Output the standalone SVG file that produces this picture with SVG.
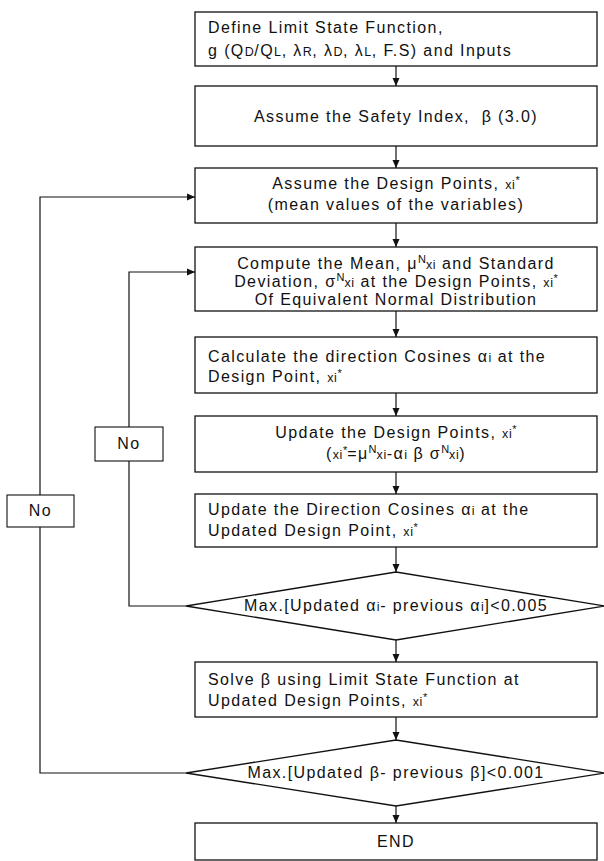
<svg xmlns="http://www.w3.org/2000/svg" width="604" height="861" viewBox="0 0 604 861">
  <defs>
    <marker id="arrow" viewBox="0 0 8 8" refX="8" refY="4" markerWidth="8" markerHeight="8" markerUnits="userSpaceOnUse" orient="auto">
      <path d="M0,0.5 L8,4 L0,7.5 Z" fill="#111"/>
    </marker>
    <style>
      .box { fill: #fff; stroke: #111; stroke-width: 1.3; }
      .lbl { fill: #fff; stroke: #111; stroke-width: 1.1; }
      .wire { fill: none; stroke: #111; stroke-width: 1.2; }
      .t { font-family: "Liberation Sans", Arial, sans-serif; font-size: 16px; letter-spacing: 1.4px; fill: #111; }
      .c { text-anchor: middle; }
      .sm { font-size: 12.5px; letter-spacing: 0.6px; }
      .sup { font-size: 11px; letter-spacing: 0; }
    </style>
  </defs>
  <rect width="604" height="861" fill="#fff"/>

  <!-- connectors -->
  <g id="connectors">
    <line class="wire" x1="396" y1="66" x2="396" y2="86" marker-end="url(#arrow)"/>
    <line class="wire" x1="396" y1="146" x2="396" y2="168" marker-end="url(#arrow)"/>
    <line class="wire" x1="396" y1="223" x2="396" y2="247" marker-end="url(#arrow)"/>
    <line class="wire" x1="396" y1="311" x2="396" y2="337" marker-end="url(#arrow)"/>
    <line class="wire" x1="396" y1="393" x2="396" y2="416" marker-end="url(#arrow)"/>
    <line class="wire" x1="396" y1="472" x2="396" y2="494" marker-end="url(#arrow)"/>
    <line class="wire" x1="396" y1="547" x2="396" y2="572" marker-end="url(#arrow)"/>
    <line class="wire" x1="396" y1="640" x2="396" y2="662" marker-end="url(#arrow)"/>
    <line class="wire" x1="396" y1="717" x2="396" y2="740" marker-end="url(#arrow)"/>
    <line class="wire" x1="396" y1="806" x2="396" y2="823" marker-end="url(#arrow)"/>
    <!-- inner loop: direction cosines not converged -->
    <polyline class="wire" points="186,606 129,606 129,461"/>
    <polyline class="wire" points="129,427 129,272 195,272" marker-end="url(#arrow)"/>
    <!-- outer loop: safety index not converged -->
    <polyline class="wire" points="186,773 40,773 40,527"/>
    <polyline class="wire" points="40,495 40,197 195,197" marker-end="url(#arrow)"/>
  </g>

  <g id="n1">
    <rect class="box" x="195" y="12" width="402" height="54"/>
    <text class="t" x="208" y="33">Define Limit State Function,</text>
    <text class="t" x="208" y="56">g (Q<tspan class="sm">D</tspan>/Q<tspan class="sm">L</tspan>, λ<tspan class="sm">R</tspan>, λ<tspan class="sm">D</tspan>, λ<tspan class="sm">L</tspan>, F.S) and Inputs</text>
  </g>

  <g id="n2">
    <rect class="box" x="195" y="86" width="402" height="60"/>
    <text class="t c" x="396" y="122">Assume the Safety Index,&#160; β (3.0)</text>
  </g>

  <g id="n3">
    <rect class="box" x="195" y="168" width="402" height="55"/>
    <text class="t c" x="396" y="189">Assume the Design Points, <tspan class="sm">xi</tspan><tspan class="sup" dy="-5">*</tspan></text>
    <text class="t c" x="396" y="210">(mean values of the variables)</text>
  </g>

  <g id="n4">
    <rect class="box" x="195" y="247" width="402" height="64"/>
    <text class="t c" x="396" y="269">Compute the Mean, μ<tspan class="sup" dy="-6">N</tspan><tspan class="sm" dy="6">xi</tspan> and Standard</text>
    <text class="t c" x="396" y="287">Deviation, σ<tspan class="sup" dy="-6">N</tspan><tspan class="sm" dy="6">xi</tspan> at the Design Points, <tspan class="sm">xi</tspan><tspan class="sup" dy="-5">*</tspan></text>
    <text class="t c" x="396" y="305">Of Equivalent Normal Distribution</text>
  </g>

  <g id="n5">
    <rect class="box" x="195" y="337" width="402" height="56"/>
    <text class="t" x="208" y="362">Calculate the direction Cosines α<tspan class="sm">i</tspan> at the</text>
    <text class="t" x="208" y="382">Design Point, <tspan class="sm">xi</tspan><tspan class="sup" dy="-5">*</tspan></text>
  </g>

  <g id="n6">
    <rect class="box" x="195" y="416" width="402" height="56"/>
    <text class="t c" x="396" y="438">Update the Design Points, <tspan class="sm">xi</tspan><tspan class="sup" dy="-5">*</tspan></text>
    <text class="t c" x="396" y="459">(<tspan class="sm">xi</tspan><tspan class="sup" dy="-5">*</tspan><tspan dy="5">=μ</tspan><tspan class="sup" dy="-6">N</tspan><tspan class="sm" dy="6">xi</tspan>-α<tspan class="sm">i</tspan> β σ<tspan class="sup" dy="-6">N</tspan><tspan class="sm" dy="6">xi</tspan>)</text>
  </g>

  <g id="n7">
    <rect class="box" x="195" y="494" width="402" height="53"/>
    <text class="t" x="208" y="515">Update the Direction Cosines α<tspan class="sm">i</tspan> at the</text>
    <text class="t" x="208" y="536">Updated Design Point, <tspan class="sm">xi</tspan><tspan class="sup" dy="-5">*</tspan></text>
  </g>

  <g id="d1">
    <polygon class="box" points="396,572 605,606 396,640 186,606"/>
    <text class="t c" x="396" y="611">Max.[Updated α<tspan class="sm">i</tspan>- previous α<tspan class="sm">i</tspan>]&lt;0.005</text>
  </g>

  <g id="n8">
    <rect class="box" x="195" y="662" width="402" height="55"/>
    <text class="t" x="208" y="685">Solve β using Limit State Function at</text>
    <text class="t" x="208" y="706">Updated Design Points, <tspan class="sm">xi</tspan><tspan class="sup" dy="-5">*</tspan></text>
  </g>

  <g id="d2">
    <polygon class="box" points="396,740 605,773 396,806 186,773"/>
    <text class="t c" x="396" y="778">Max.[Updated β- previous β]&lt;0.001</text>
  </g>

  <g id="end">
    <rect class="box" x="195" y="823" width="402" height="37"/>
    <text class="t c" x="396" y="847">END</text>
  </g>

  <g id="no-inner">
    <rect class="lbl" x="95" y="427" width="68" height="34"/>
    <text class="t c" x="129" y="449">No</text>
  </g>

  <g id="no-outer">
    <rect class="lbl" x="7" y="495" width="67" height="32"/>
    <text class="t c" x="40.5" y="516">No</text>
  </g>
</svg>
